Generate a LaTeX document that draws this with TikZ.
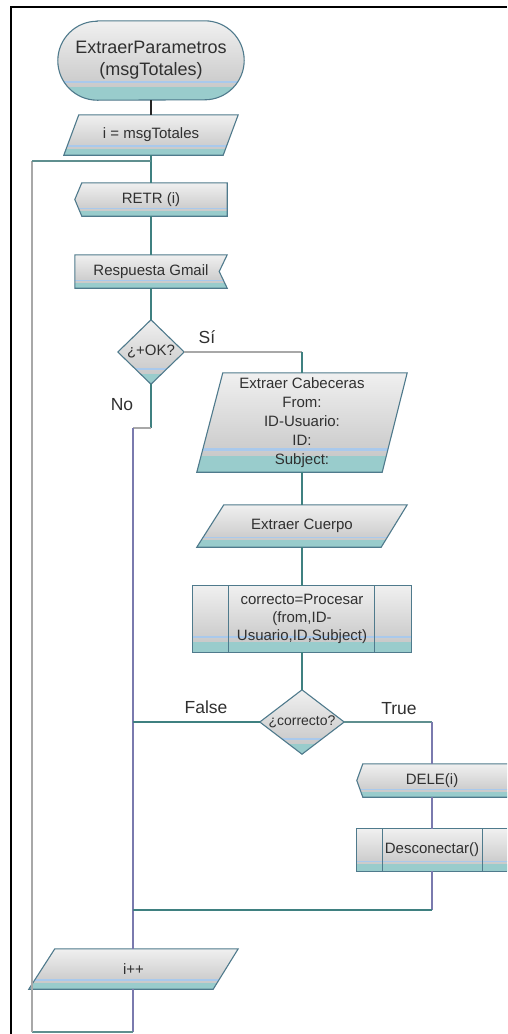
\documentclass[tikz,border=0pt]{standalone}
\usepackage{fontspec}
\setmainfont{Liberation Sans}
\usetikzlibrary{calc}
\pgfdeclarelayer{background}
\pgfsetlayers{background,main}

\definecolor{fillTop}{HTML}{F0F0F0}
\definecolor{fillBot}{HTML}{C2C2C2}
\definecolor{stripeBlue}{HTML}{A9C9EC}
\definecolor{bandTeal}{HTML}{99CCCC}
\definecolor{outlineC}{HTML}{4F7A8C}
\definecolor{lineTeal}{HTML}{3F8080}
\definecolor{lineTealGray}{HTML}{5F8F8F}
\definecolor{linePurple}{HTML}{7A7AAE}
\definecolor{lineGray}{HTML}{A8A8A8}
\definecolor{txt}{HTML}{303030}

\tikzset{
  box/.style={draw=none, inner sep=0pt, align=center, text=txt,
    font=\fontsize{15}{18}\selectfont},
  lbl/.style={inner sep=0pt, text=txt, font=\fontsize{17.5}{20}\selectfont},
  shapeline/.style={draw=outlineC, line width=1.1pt, line join=miter},
  conn/.style={line width=1.3pt, draw=lineTeal},
  connP/.style={line width=1.3pt, draw=linePurple},
  connG/.style={line width=1.3pt, draw=lineGray},
  connTG/.style={line width=1.3pt, draw=lineTealGray},
  connK/.style={line width=1.3pt, draw=black!85},
  frameline/.style={line width=2pt, draw=black},
}

% Shaded flowchart body: #1 node giving the extent, #2 filled region, #3 outline
\newcommand\flowbodyopen[3]{%
  \begin{pgfonlayer}{background}
    \begin{scope}
      \clip #2;
      \shade[top color=fillTop, bottom color=fillBot]
        ($(#1.north west)+(-30,0)$) rectangle ($(#1.south east)+(30,0)$);
      \fill[stripeBlue]
        ($(#1.south west)!0.245!(#1.north west)+(-30,0)$) rectangle
        ($(#1.south east)!0.215!(#1.north east)+(30,0)$);
      \fill[bandTeal]
        ($(#1.south west)+(-30,0)$) rectangle
        ($(#1.south east)!0.16!(#1.north east)+(30,0)$);
    \end{scope}
    \draw[shapeline] #3;
  \end{pgfonlayer}}
\newcommand\flowbody[2]{\flowbodyopen{#1}{#2}{#2}}

\begin{document}
\begin{tikzpicture}[x=1pt, y=-1pt]
  \useasboundingbox (0,0) rectangle (507,1034);

  % outer frame
  \draw[frameline] (10.5,1034) -- (10.5,6.5) -- (507,6.5);

  % ---- nodes ----
  \node[box, minimum width=186pt, minimum height=79pt,
        font=\fontsize{18}{22}\selectfont] (term) at (151,60.5)
        {ExtraerParametros\\(msgTotales)};
  \node[box, minimum width=174pt, minimum height=40pt] (init) at (151,135) {i = msgTotales};
  \node[box, minimum width=152pt, minimum height=33pt] (retr) at (151,199.5) {RETR (i)};
  \node[box, minimum width=152pt, minimum height=33pt] (resp) at (151,271.5) {Respuesta Gmail};
  \node[box, minimum width=66pt, minimum height=64pt] (ok) at (151,352) {¿+OK?};
  \node[box, minimum width=210pt, minimum height=99pt,
        font=\fontsize{15}{19}\selectfont] (cab) at (302,422.5)
        {Extraer Cabeceras\\From:\\ID-Usuario:\\ID:\\Subject:};
  \node[box, minimum width=210pt, minimum height=42pt] (cuerpo) at (302,526) {Extraer Cuerpo};
  \node[box, minimum width=218pt, minimum height=66pt] (proc) at (302,619)
        {correcto=Procesar\\(from,ID-\\Usuario,ID,Subject)};
  \node[box, minimum width=84pt, minimum height=64pt,
        font=\fontsize{14}{17}\selectfont] (corr) at (302,722) {¿correcto?};
  \node[box, minimum width=150pt, minimum height=33pt] (dele) at (432,780.5) {DELE(i)};
  \node[box, minimum width=150pt, minimum height=42pt] (desc) at (432,850) {Desconectar()};
  \node[box, minimum width=209pt, minimum height=40pt] (incr) at (133.5,969) {i++};

  % branch labels
  \node[lbl] (lsi) at (207,337) {Sí};
  \node[lbl] (lno) at (122,405) {No};
  \node[lbl] (lfalse) at (206,707) {False};
  \node[lbl] (ltrue) at (399,709) {True};

  % ---- shape bodies ----
  \flowbody{term}{($(term.north west)+(39.5,0)$) -- ($(term.north east)+(-39.5,0)$)
      arc[start angle=90, end angle=-90, radius=39.5pt]
      -- ($(term.south west)+(39.5,0)$)
      arc[start angle=270, end angle=90, radius=39.5pt] -- cycle}
  \flowbody{init}{($(init.north west)+(15,0)$) -- (init.north east)
      -- ($(init.south east)+(-15,0)$) -- (init.south west) -- cycle}
  \flowbody{retr}{($(retr.north west)+(7,0)$) -- (retr.north east) -- (retr.south east)
      -- ($(retr.south west)+(7,0)$) -- (retr.west) -- cycle}
  \flowbody{resp}{(resp.north west) -- (resp.north east) -- ($(resp.east)+(-8,0)$)
      -- (resp.south east) -- (resp.south west) -- cycle}
  \flowbody{ok}{(ok.north) -- (ok.east) -- (ok.south) -- (ok.west) -- cycle}
  \flowbody{cab}{($(cab.north west)+(26,0)$) -- (cab.north east)
      -- ($(cab.south east)+(-25,0)$) -- (cab.south west) -- cycle}
  \flowbody{cuerpo}{($(cuerpo.north west)+(27,0)$) -- (cuerpo.north east)
      -- ($(cuerpo.south east)+(-26,0)$) -- (cuerpo.south west) -- cycle}
  \flowbody{proc}{(proc.north west) -- (proc.north east) -- (proc.south east)
      -- (proc.south west) -- cycle}
  \flowbody{corr}{(corr.north) -- (corr.east) -- (corr.south) -- (corr.west) -- cycle}
  \flowbodyopen{dele}{(dele.north east) -- ($(dele.north west)+(6,0)$) -- (dele.west)
      -- ($(dele.south west)+(6,0)$) -- (dele.south east) -- cycle}
      {(dele.north east) -- ($(dele.north west)+(6,0)$) -- (dele.west)
      -- ($(dele.south west)+(6,0)$) -- (dele.south east)}
  \flowbodyopen{desc}{(desc.north east) -- (desc.north west) -- (desc.south west)
      -- (desc.south east) -- cycle}
      {(desc.north east) -- (desc.north west) -- (desc.south west) -- (desc.south east)}
  \flowbody{incr}{($(incr.north west)+(26,0)$) -- (incr.north east)
      -- ($(incr.south east)+(-25,0)$) -- (incr.south west) -- cycle}

  % predefined-process side bars
  \begin{pgfonlayer}{background}
    \draw[shapeline] ($(proc.north west)+(36,0)$) -- ($(proc.south west)+(36,0)$);
    \draw[shapeline] ($(proc.north east)+(-37,0)$) -- ($(proc.south east)+(-37,0)$);
    \draw[shapeline] ($(desc.north west)+(26,0)$) -- ($(desc.south west)+(26,0)$);
    \draw[shapeline] ($(desc.north west)+(126,0)$) -- ($(desc.south west)+(126,0)$);
  \end{pgfonlayer}

  % ---- connector junctions ----
  \coordinate (loopin) at (151,161);
  \coordinate (loopturn) at (32,1032);
  \coordinate (nojog) at (133,428);
  \coordinate (merge) at (133,910);

  % ---- connectors ----
  \draw[connK] (term.south) -- (init.north);
  \draw[conn] (init.south) -- (retr.north);
  \draw[conn] (retr.south) -- (resp.north);
  \draw[conn] (resp.south) -- (ok.north);

  \draw[connG] (ok.east) -- (ok.east -| cab.north);
  \draw[conn] (ok.east -| cab.north) -- (cab.north);

  \draw[conn] (ok.south) -- (ok.south |- nojog);
  \draw[connG] (ok.south |- nojog) -- (nojog);
  \draw[connP] (nojog) -- (incr.north -| nojog);

  \draw[conn] (cab.south) -- (cuerpo.north);
  \draw[conn] (cuerpo.south) -- (proc.north);
  \draw[conn] (proc.south) -- (corr.north);

  \draw[conn] (corr.west) -- (corr.west -| nojog);
  \draw[connTG] (corr.east) -- (corr.east -| dele.north);
  \draw[connP] (corr.east -| dele.north) -- (dele.north);
  \draw[connP] (dele.south) -- (desc.north);
  \draw[connP] (desc.south) -- (desc.south |- merge);
  \draw[conn] (desc.south |- merge) -- (merge);

  % loop back to RETR
  \draw[connP] (incr.south -| nojog) -- (nojog |- loopturn);
  \draw[connTG] (nojog |- loopturn) -- (loopturn);
  \draw[connG] (loopturn) -- (loopturn |- loopin);
  \draw[connTG] (loopturn |- loopin) -- (loopin);
\end{tikzpicture}
\end{document}
